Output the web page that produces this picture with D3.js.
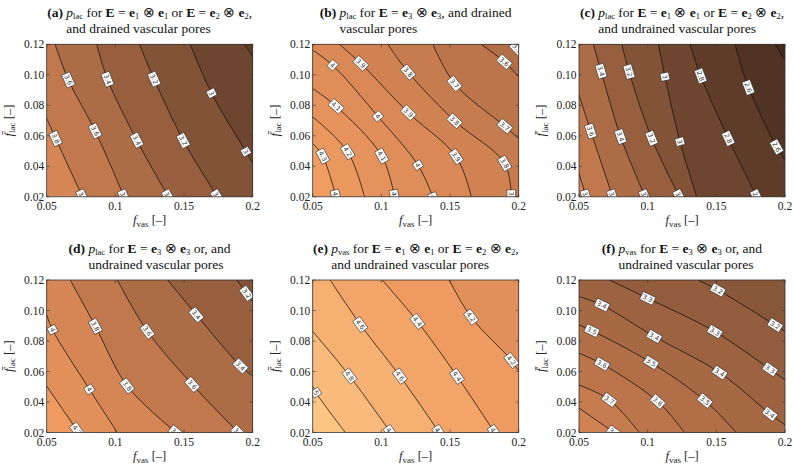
<!DOCTYPE html>
<html><head><meta charset="utf-8">
<script src="https://cdn.jsdelivr.net/npm/d3@7"></script>
<style>body{margin:0;background:#fff}svg{display:block}
.serif{font-family:"Liberation Serif",serif}
.lab{font-family:"DejaVu Sans","Liberation Sans",sans-serif}
</style>
</head><body>
<svg id="chart" width="793" height="465"></svg>
<script>
// ---------- data ----------
const fvasDomain = [0.05, 0.2];
const flacDomain = [0.02, 0.12];
const xTicks = [0.05, 0.1, 0.15, 0.2];
const xTickLabels = ["0.05", "0.1", "0.15", "0.2"];
const yTicks = [0.02, 0.04, 0.06, 0.08, 0.10, 0.12];
const yTickLabels = ["0.02", "0.04", "0.06", "0.08", "0.10", "0.12"];

// (a)
const levelsA = [3.8, 3.6, 3.4, 3.2, 3.0, 2.8];
const linesA = [
  [[0.05,0.0715],[0.0565,0.0583],[0.076,0.02]],
  [[0.0561,0.12],[0.0658,0.0966],[0.0852,0.0633],[0.1063,0.02]],
  [[0.0864,0.12],[0.0942,0.0972],[0.1155,0.0572],[0.1386,0.02]],
  [[0.1175,0.12],[0.1282,0.0972],[0.1495,0.0568],[0.1743,0.02]],
  [[0.1544,0.12],[0.1701,0.0878],[0.1951,0.0495],[0.2,0.042]],
  [[0.194,0.12],[0.2,0.112]]
];
const labelsA = [
  [[0.0565,0.0583],[0.0779,0.02]],
  [[0.0658,0.0966],[0.0852,0.0633],[0.107,0.02]],
  [[0.0942,0.0972],[0.1155,0.0572],[0.1386,0.02]],
  [[0.1282,0.0972],[0.1495,0.0568],[0.175,0.02]],
  [[0.1701,0.0878],[0.1951,0.0495]],
  []
];
// (b)
const levelsB = [4.3, 4.2, 4.1, 4.0, 3.9, 3.8, 3.7, 3.6, 3.5];
const linesB = [
  [[0.05,0.0549],[0.0573,0.0467],[0.067,0.02]],
  [[0.05,0.0724],[0.0755,0.0495],[0.0877,0.02]],
  [[0.05,0.091],[0.067,0.0794],[0.1003,0.0467],[0.1096,0.02]],
  [[0.05,0.1161],[0.0646,0.1062],[0.0974,0.0728],[0.1266,0.0408],[0.1375,0.02]],
  [[0.0694,0.12],[0.0852,0.1073],[0.1198,0.075],[0.1545,0.0462],[0.1655,0.02]],
  [[0.1047,0.12],[0.1193,0.1019],[0.1533,0.0698],[0.1898,0.0419],[0.1946,0.02]],
  [[0.1375,0.12],[0.1533,0.0942],[0.1898,0.0663],[0.2,0.0582]],
  [[0.1728,0.12],[0.1895,0.1085],[0.2,0.0986]],
  [[0.1959,0.12],[0.2,0.1161]]
];
const labelsB = [
  [[0.0573,0.0467],[0.067,0.02]],
  [[0.0755,0.0495]],
  [[0.067,0.0794],[0.1003,0.0467],[0.1096,0.02]],
  [[0.0646,0.1062],[0.0974,0.0728],[0.1266,0.0408],[0.1375,0.02]],
  [[0.0852,0.1073],[0.1198,0.075],[0.1545,0.0462]],
  [[0.1193,0.1019],[0.1533,0.0698],[0.1898,0.0419],[0.1946,0.02]],
  [[0.1533,0.0942],[0.1898,0.0663]],
  [[0.1895,0.1085]],
  [[0.1985,0.117]]
];
// (c)
const levelsC = [3.8, 3.6, 3.4, 3.2, 3.0, 2.8, 2.6, 2.4];
const linesC = [
  [[0.05,0.0353],[0.0551,0.02]],
  [[0.05,0.0867],[0.0585,0.0631],[0.0745,0.02]],
  [[0.0604,0.12],[0.066,0.1025],[0.0803,0.0594],[0.0981,0.02]],
  [[0.0811,0.12],[0.0864,0.1021],[0.1029,0.0583],[0.1231,0.02]],
  [[0.1078,0.12],[0.1126,0.0988],[0.1235,0.0561],[0.1357,0.02]],
  [[0.1308,0.12],[0.1386,0.0992],[0.1587,0.0583],[0.1794,0.02]],
  [[0.1636,0.12],[0.1733,0.0918],[0.1939,0.0528],[0.2,0.0441]],
  [[0.1927,0.12],[0.2,0.1097]]
];
const labelsC = [
  [[0.055,0.02]],
  [[0.0585,0.0631],[0.0745,0.02]],
  [[0.066,0.1025],[0.0803,0.0594],[0.0981,0.02]],
  [[0.0864,0.1021],[0.1029,0.0583],[0.1231,0.02]],
  [[0.1126,0.0988],[0.1235,0.0561]],
  [[0.1386,0.0992],[0.1587,0.0583],[0.1794,0.02]],
  [[0.1733,0.0918],[0.1939,0.0528]],
  []
];
// (d)
const levelsD = [4.2, 4.0, 3.8, 3.6, 3.4, 3.2];
const linesD = [
  [[0.05,0.0504],[0.0732,0.02]],
  [[0.05,0.0972],[0.0542,0.0874],[0.0811,0.0483],[0.1014,0.02]],
  [[0.0671,0.12],[0.0855,0.0896],[0.1087,0.0504],[0.1442,0.02]],
  [[0.1014,0.12],[0.1234,0.0863],[0.156,0.0515],[0.1895,0.02]],
  [[0.1381,0.12],[0.1589,0.0972],[0.1912,0.0635],[0.2,0.057]],
  [[0.1883,0.12],[0.1956,0.1113],[0.2,0.1059]]
];
const labelsD = [
  [[0.0696,0.02]],
  [[0.0542,0.0874],[0.0811,0.0483]],
  [[0.0855,0.0896],[0.1087,0.0504],[0.1442,0.02]],
  [[0.1234,0.0863],[0.156,0.0515],[0.1895,0.02]],
  [[0.1589,0.0972],[0.1912,0.0635]],
  [[0.1956,0.1113]]
];
// (e)
const levelsE = [5.0, 4.8, 4.6, 4.4, 4.2];
const linesE = [
  [[0.05,0.0504],[0.0524,0.0461],[0.0737,0.02]],
  [[0.05,0.0863],[0.0769,0.057],[0.1067,0.02]],
  [[0.0627,0.12],[0.0847,0.0907],[0.1135,0.057],[0.1421,0.02]],
  [[0.1006,0.12],[0.1262,0.0928],[0.155,0.057],[0.1824,0.02]],
  [[0.1494,0.12],[0.1653,0.0957],[0.1946,0.0674],[0.2,0.0602]]
];
const labelsE = [
  [[0.0524,0.0461]],
  [[0.0769,0.057],[0.1067,0.02]],
  [[0.0847,0.0907],[0.1135,0.057],[0.1421,0.02]],
  [[0.1262,0.0928],[0.155,0.057],[0.1824,0.02]],
  [[0.1653,0.0957],[0.1946,0.0674]]
];
// (f)
const levelsF = [3.8, 3.7, 3.6, 3.5, 3.4, 3.3, 3.2];
const linesF = [
  [[0.05,0.036],[0.0756,0.02]],
  [[0.05,0.0512],[0.072,0.0414],[0.0939,0.02]],
  [[0.05,0.072],[0.0666,0.065],[0.1073,0.0403],[0.1268,0.02]],
  [[0.05,0.0905],[0.0593,0.0868],[0.1024,0.0659],[0.1415,0.041],[0.1646,0.02]],
  [[0.05,0.1091],[0.0666,0.1036],[0.1049,0.0829],[0.1524,0.0593],[0.189,0.0322],[0.2,0.025]],
  [[0.072,0.12],[0.1,0.108],[0.1488,0.0862],[0.189,0.0615],[0.2,0.0545]],
  [[0.1366,0.12],[0.1512,0.1134],[0.1927,0.0905],[0.2,0.0862]]
];
const labelsF = [
  [[0.0756,0.02]],
  [[0.072,0.0414]],
  [[0.0666,0.065],[0.1073,0.0403]],
  [[0.0593,0.0868],[0.1024,0.0659],[0.1415,0.041]],
  [[0.0666,0.1036],[0.1049,0.0829],[0.1524,0.0593],[0.189,0.0322]],
  [[0.1,0.108],[0.1488,0.0862],[0.189,0.0615]],
  [[0.1512,0.1134],[0.1927,0.0905]]
];

// titles: [text, style]  b=bold, i=italic, r=roman, s=subscript
const eq12 = [[" for ","r"],["E","b"],[" = ","r"],["e","b"],["1","s"],[" \u2297 ","r"],["e","b"],["1","s"],[" or ","r"],["E","b"],[" = ","r"],["e","b"],["2","s"],[" \u2297 ","r"],["e","b"],["2","s"],[",","r"]];
const eq33 = [[" for ","r"],["E","b"],[" = ","r"],["e","b"],["3","s"],[" \u2297 ","r"],["e","b"],["3","s"]];
const titleA1 = [["(a)","b"],[" ","r"],["p","i"],["lac","s"]].concat(eq12);
const titleA2 = "and drained vascular pores";
const titleB1 = [["(b)","b"],[" ","r"],["p","i"],["lac","s"]].concat(eq33, [[", and drained","r"]]);
const titleB2 = "vascular pores";
const titleC1 = [["(c)","b"],[" ","r"],["p","i"],["lac","s"]].concat(eq12);
const titleC2 = "and undrained vascular pores";
const titleD1 = [["(d)","b"],[" ","r"],["p","i"],["lac","s"]].concat(eq33, [[" or, and","r"]]);
const titleD2 = "undrained vascular pores";
const titleE1 = [["(e)","b"],[" ","r"],["p","i"],["vas","s"]].concat(eq12);
const titleE2 = "and undrained vascular pores";
const titleF1 = [["(f)","b"],[" ","r"],["p","i"],["vas","s"]].concat(eq33, [[" or, and","r"]]);
const titleF2 = "undrained vascular pores";

// ---------- drawing ----------
const svg = d3.select("#chart");
const colLeft = [46.7, 312.7, 579];
const rowTop = [44.3, 280];
const PW = 206, PH = 152.5;
const TFS = 13.5;

const color = d3.scaleLinear()
  .domain([2.3, 2.9, 3.9, 4.35, 5.1])
  .range(["#42291c", "#6e4630", "#d68554", "#f19d62", "#fcc584"])
  .clamp(true);

const panels = [
  {c:0, r:0, levels:levelsA, lines:linesA, labels:labelsA, t1:titleA1, t2:titleA2},
  {c:1, r:0, levels:levelsB, lines:linesB, labels:labelsB, t1:titleB1, t2:titleB2},
  {c:2, r:0, levels:levelsC, lines:linesC, labels:labelsC, t1:titleC1, t2:titleC2},
  {c:0, r:1, levels:levelsD, lines:linesD, labels:labelsD, t1:titleD1, t2:titleD2},
  {c:1, r:1, levels:levelsE, lines:linesE, labels:labelsE, t1:titleE1, t2:titleE2},
  {c:2, r:1, levels:levelsF, lines:linesF, labels:labelsF, t1:titleF1, t2:titleF2}
];

function fmt(v){ return String(+v.toFixed(2)); }
function measure(str, size, weight) {
  const t = svg.append("text").attr("class", "serif").attr("font-size", size)
    .attr("font-weight", weight || "normal").style("white-space", "pre").text(str);
  const w = t.node().getBBox().width;
  t.remove();
  return w;
}

panels.forEach((p, pi) => {
  const x0 = colLeft[p.c], y0 = rowTop[p.r];
  const x = d3.scaleLinear().domain(fvasDomain).range([x0, x0 + PW]);
  const y = d3.scaleLinear().domain(flacDomain).range([y0 + PH, y0]);
  const g = svg.append("g");
  const clipId = "clip" + pi;
  svg.append("clipPath").attr("id", clipId).append("rect")
    .attr("x", x0).attr("y", y0).attr("width", PW).attr("height", PH);
  const plot = g.append("g").attr("clip-path", `url(#${clipId})`);

  const lv = p.levels;
  const stepAt = i => (i < lv.length - 1 ? lv[i] - lv[i+1] : lv[i-1] - lv[i]);
  plot.append("rect").attr("x", x0).attr("y", y0).attr("width", PW).attr("height", PH)
    .attr("fill", color(lv[0] + stepAt(0) / 2));

  const lineGen = d3.line().x(d => x(d[0])).y(d => y(d[1])).curve(d3.curveCatmullRom.alpha(0.5));
  const pad = 40;
  const L = x0 - pad, R = x0 + PW + pad, T = y0 - pad, B = y0 + PH + pad;

  p.lines.forEach((pts, i) => {
    const S = pts[0], E = pts[pts.length - 1];
    const extra = [];
    if (E[1] <= 0.0201) { extra.push([x(E[0]), B], [R, B], [R, T]); }
    else { extra.push([R, y(E[1])], [R, T]); }
    if (S[1] >= 0.1199) { extra.push([x(S[0]), T]); }
    else { extra.push([L, T], [L, y(S[1])]); }
    const d = lineGen(pts) + extra.map(q => `L${q[0]},${q[1]}`).join("") + "Z";
    plot.append("path").attr("d", d).attr("fill", color(lv[i] - stepAt(i) / 2));
  });

  const linePaths = p.lines.map(pts =>
    plot.append("path").attr("d", lineGen(pts)).attr("fill", "none")
      .attr("stroke", "#111").attr("stroke-width", 0.75).node());

  p.labels.forEach((labs, i) => {
    const node = linePaths[i];
    const len = node.getTotalLength();
    const N = 300;
    const samples = d3.range(N + 1).map(k => node.getPointAtLength(len * k / N));
    labs.forEach(lp => {
      const px = x(lp[0]), py = y(lp[1]);
      let best = 0, bd = Infinity;
      samples.forEach((s, k) => { const dd = (s.x - px) ** 2 + (s.y - py) ** 2; if (dd < bd) { bd = dd; best = k; } });
      const a = samples[Math.max(0, best - 3)], b = samples[Math.min(N, best + 3)];
      let ang = Math.atan2(b.y - a.y, b.x - a.x) * 180 / Math.PI;
      if (ang > 90) ang -= 180;
      if (ang < -90) ang += 180;
      const c = samples[best];
      const lg = plot.append("g").attr("transform", `translate(${c.x},${c.y}) rotate(${ang})`);
      const t = lg.append("text").attr("class", "lab").attr("text-anchor", "middle").attr("dy", "0.36em")
        .attr("font-size", 6.5).attr("fill", "#333").text(fmt(lv[i]));
      const w = t.node().getComputedTextLength() + 3.5;
      lg.insert("rect", "text").attr("x", -w / 2).attr("y", -4.3).attr("width", w).attr("height", 8.6)
        .attr("fill", "#fff").attr("stroke", "#222").attr("stroke-width", 0.55);
    });
  });

  g.append("rect").attr("x", x0).attr("y", y0).attr("width", PW).attr("height", PH)
    .attr("fill", "none").attr("stroke", "#333").attr("stroke-width", 0.8);
  xTicks.forEach(v => {
    g.append("line").attr("x1", x(v)).attr("x2", x(v)).attr("y1", y0 + PH).attr("y2", y0 + PH - 3).attr("stroke", "#333").attr("stroke-width", 0.6);
    g.append("line").attr("x1", x(v)).attr("x2", x(v)).attr("y1", y0).attr("y2", y0 + 3).attr("stroke", "#333").attr("stroke-width", 0.6);
  });
  yTicks.forEach(v => {
    g.append("line").attr("x1", x0).attr("x2", x0 + 3).attr("y1", y(v)).attr("y2", y(v)).attr("stroke", "#333").attr("stroke-width", 0.6);
    g.append("line").attr("x1", x0 + PW).attr("x2", x0 + PW - 3).attr("y1", y(v)).attr("y2", y(v)).attr("stroke", "#333").attr("stroke-width", 0.6);
  });
  xTicks.forEach((v, k) => {
    g.append("text").attr("class", "serif").attr("x", x(v)).attr("y", y0 + PH + 13).attr("text-anchor", "middle")
      .attr("font-size", 11.5).attr("fill", "#222").text(xTickLabels[k]);
  });
  yTicks.forEach((v, k) => {
    g.append("text").attr("class", "serif").attr("x", x0 - 2.5).attr("y", y(v)).attr("dy", "0.35em").attr("text-anchor", "end")
      .attr("font-size", 11.5).attr("fill", "#222").text(yTickLabels[k]);
  });
  const xt = g.append("text").attr("class", "serif").attr("x", x0 + PW / 2).attr("y", y0 + PH + 27.5).attr("text-anchor", "middle")
    .attr("font-size", 12.5).attr("fill", "#222").style("white-space", "pre");
  xt.append("tspan").attr("font-style", "italic").text("f");
  xt.append("tspan").attr("font-size", 9).attr("dy", 2.5).text("vas");
  xt.append("tspan").attr("dy", -2.5).text(" [\u2013]");
  const yt = g.append("text").attr("class", "serif").attr("transform", `translate(${x0 - 34},${y0 + PH / 2}) rotate(-90)`)
    .attr("text-anchor", "middle").attr("font-size", 12.5).attr("fill", "#222").style("white-space", "pre");
  yt.append("tspan").attr("font-style", "italic").text("f\u0304");
  yt.append("tspan").attr("font-size", 9).attr("dy", 2.5).text("lac");
  yt.append("tspan").attr("dy", -2.5).text(" [\u2013]");

  // title
  const cx = x0 + PW / 2;
  const t1 = g.append("text").attr("class", "serif").attr("x", 0).attr("y", y0 - 27.5)
    .attr("font-size", TFS).attr("fill", "#111").style("white-space", "pre");
  let inSub = false;
  p.t1.forEach(([txt, st]) => {
    const s = t1.append("tspan").text(txt);
    if (st === "b") s.attr("font-weight", "bold");
    if (st === "i") s.attr("font-style", "italic");
    if (st === "s") { s.attr("font-size", 8.5); if (!inSub) { s.attr("dy", 2.2); inSub = true; } }
    else if (inSub) { s.attr("dy", -2.2); inSub = false; }
  });
  const w1 = t1.node().getBBox().width;
  const start = cx - w1 / 2;
  t1.attr("x", start);
  const indent = measure(p.t1[0][0], TFS, "bold") + measure(" ", TFS);
  g.append("text").attr("class", "serif").attr("x", start + indent).attr("y", y0 - 11.3)
    .attr("font-size", TFS).attr("fill", "#111").text(p.t2);
});
</script>
</body></html>
